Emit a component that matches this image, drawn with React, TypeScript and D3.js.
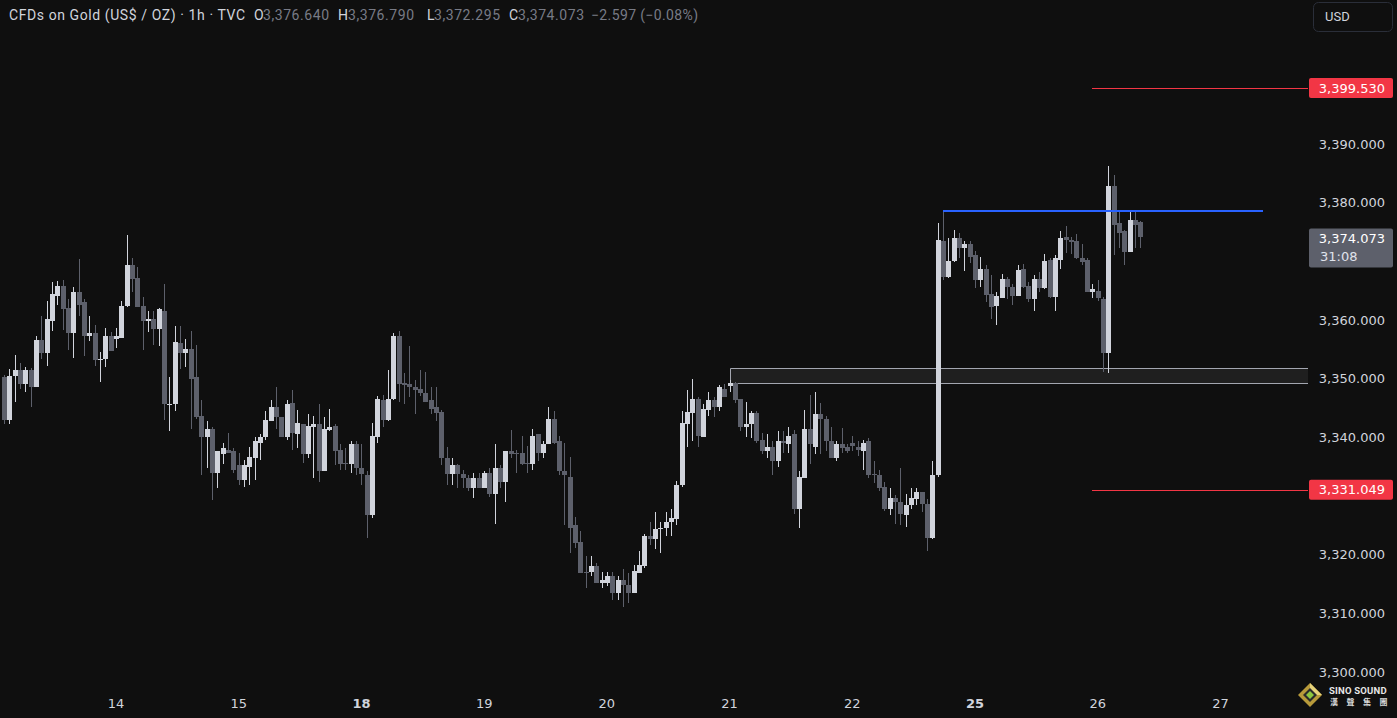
import React from 'react';
import * as d3 from 'd3';

// hourly candles, TVC:GOLD (oldest first)
const opens = [
  3350.3, 3343.0, 3350.5, 3351.4, 3349.1, 3351.5, 3348.6, 3356.6, 3354.3, 3359.9,
  3364.1, 3365.8, 3362.1, 3357.7, 3364.8, 3363.0, 3357.2, 3357.7, 3353.2, 3353.4,
  3357.3, 3356.8, 3357.0, 3362.4, 3369.4, 3367.2, 3362.4, 3359.9, 3360.2, 3358.5,
  3361.6, 3345.6, 3345.7, 3356.1, 3354.4, 3355.1, 3350.3, 3343.7, 3340.1, 3341.5,
  3334.0, 3337.2, 3337.9, 3337.6, 3335.3, 3332.8, 3335.0, 3336.4, 3339.1, 3340.0,
  3342.8, 3345.1, 3343.5, 3340.0, 3345.9, 3340.6, 3342.3, 3337.1, 3341.8, 3342.3,
  3334.3, 3341.3, 3342.0, 3337.9, 3335.7, 3335.5, 3338.8, 3334.7, 3333.6, 3326.7,
  3340.0, 3346.4, 3343.0, 3346.6, 3357.2, 3349.3, 3349.1, 3348.6, 3348.3, 3347.6,
  3346.3, 3345.1, 3344.4, 3336.4, 3333.8, 3335.2, 3333.8, 3333.1, 3331.4, 3333.1,
  3331.3, 3334.0, 3330.4, 3334.8, 3332.4, 3337.7, 3337.4, 3337.4, 3335.7, 3335.5,
  3340.5, 3337.4, 3338.8, 3343.2, 3339.3, 3334.3, 3333.3, 3325.0, 3322.2, 3317.1,
  3317.0, 3318.0, 3315.2, 3315.1, 3316.4, 3313.5, 3315.6, 3314.9, 3313.4, 3316.9,
  3318.1, 3323.1, 3322.6, 3324.3, 3324.6, 3325.5, 3326.1, 3331.8, 3342.3, 3344.2,
  3346.6, 3340.1, 3344.7, 3346.4, 3345.2, 3348.3, 3348.8, 3349.3, 3346.6, 3341.8,
  3342.2, 3344.2, 3339.6, 3337.7, 3338.4, 3336.0, 3339.3, 3338.9, 3340.5, 3327.7,
  3333.0, 3341.5, 3338.4, 3343.9, 3343.2, 3339.4, 3336.5, 3338.9, 3338.4, 3339.1,
  3338.4, 3337.7, 3339.3, 3333.8, 3333.6, 3331.6, 3327.7, 3329.7, 3329.0, 3326.8,
  3328.4, 3329.5, 3330.6, 3328.7, 3322.9, 3333.5, 3373.5, 3367.4, 3370.1, 3373.9,
  3372.3, 3373.0, 3371.1, 3366.9, 3368.7, 3364.5, 3362.4, 3363.8, 3367.0, 3365.7,
  3364.1, 3368.7, 3365.8, 3363.5, 3367.0, 3365.5, 3370.3, 3364.0, 3370.3, 3374.2,
  3373.7, 3373.5, 3370.6, 3370.3, 3364.8, 3365.0, 3363.6, 3354.3, 3382.9, 3376.6,
  3375.1, 3371.6, 3377.1, 3376.64
];

const highs = [
  3350.7, 3351.7, 3354.1, 3352.7, 3352.0, 3351.9, 3357.3, 3360.7, 3363.3, 3366.4,
  3366.7, 3366.9, 3363.5, 3365.7, 3370.4, 3363.5, 3360.6, 3359.2, 3354.6, 3358.7,
  3358.0, 3358.7, 3363.3, 3374.5, 3370.6, 3369.1, 3364.0, 3361.6, 3361.6, 3362.1,
  3366.2, 3350.2, 3358.9, 3358.9, 3356.8, 3358.2, 3355.8, 3346.3, 3342.7, 3341.8,
  3337.6, 3339.1, 3340.8, 3338.2, 3337.4, 3336.2, 3338.4, 3340.0, 3340.6, 3344.5,
  3346.4, 3348.5, 3343.5, 3346.4, 3348.0, 3344.7, 3342.3, 3343.9, 3343.7, 3345.7,
  3343.4, 3344.9, 3342.2, 3338.8, 3338.1, 3339.4, 3339.3, 3338.8, 3334.2, 3342.5,
  3347.1, 3347.3, 3351.5, 3357.8, 3358.2, 3350.9, 3355.5, 3349.7, 3351.4, 3351.2,
  3348.5, 3348.5, 3344.7, 3338.4, 3336.5, 3335.5, 3334.5, 3333.6, 3334.0, 3334.0,
  3334.3, 3334.7, 3338.9, 3335.2, 3337.7, 3341.3, 3337.9, 3340.3, 3338.6, 3341.5,
  3340.6, 3339.4, 3345.1, 3344.5, 3340.3, 3339.1, 3336.7, 3326.5, 3324.1, 3319.7,
  3319.8, 3318.6, 3317.1, 3317.1, 3317.1, 3316.4, 3317.5, 3316.8, 3318.3, 3320.7,
  3323.6, 3325.6, 3327.3, 3325.6, 3327.2, 3327.7, 3332.6, 3344.5, 3348.1, 3350.0,
  3346.8, 3345.7, 3347.8, 3346.9, 3349.0, 3349.1, 3349.7, 3349.5, 3346.6, 3346.1,
  3344.5, 3344.5, 3340.8, 3340.5, 3339.4, 3341.1, 3341.1, 3341.8, 3341.3, 3334.2,
  3344.7, 3347.3, 3347.8, 3345.9, 3343.7, 3341.8, 3339.3, 3341.6, 3338.9, 3340.3,
  3339.3, 3339.6, 3339.9, 3336.0, 3334.5, 3332.4, 3331.3, 3330.1, 3334.7, 3330.4,
  3331.3, 3331.4, 3330.7, 3329.5, 3336.0, 3376.6, 3378.6, 3374.0, 3375.4, 3374.9,
  3373.5, 3373.5, 3371.8, 3370.8, 3369.4, 3367.6, 3364.8, 3367.9, 3367.4, 3366.2,
  3369.3, 3369.6, 3366.5, 3367.7, 3368.2, 3371.3, 3370.6, 3371.1, 3375.2, 3376.1,
  3374.2, 3374.7, 3373.0, 3370.6, 3366.2, 3366.9, 3364.0, 3386.3, 3384.8, 3378.8,
  3375.4, 3378.8, 3378.8, 3376.79
];

const lows = [
  3342.3, 3342.3, 3346.1, 3348.3, 3347.8, 3345.1, 3348.5, 3353.4, 3352.2, 3358.2,
  3362.6, 3358.3, 3354.9, 3353.6, 3360.6, 3353.9, 3356.5, 3352.2, 3349.5, 3352.0,
  3354.8, 3355.3, 3357.0, 3362.3, 3364.7, 3362.3, 3354.9, 3358.0, 3355.8, 3355.5,
  3343.0, 3341.0, 3344.5, 3351.7, 3352.0, 3341.5, 3343.2, 3333.6, 3334.8, 3329.4,
  3331.3, 3335.5, 3337.4, 3334.0, 3331.9, 3331.6, 3331.8, 3332.8, 3336.2, 3339.6,
  3342.8, 3341.5, 3340.0, 3339.6, 3337.9, 3338.1, 3335.7, 3336.5, 3333.0, 3332.4,
  3334.2, 3341.1, 3335.2, 3334.5, 3334.5, 3334.0, 3333.5, 3331.8, 3322.9, 3326.3,
  3339.1, 3341.8, 3342.8, 3346.3, 3346.1, 3345.7, 3346.8, 3343.9, 3347.1, 3346.1,
  3344.0, 3342.7, 3335.2, 3331.9, 3331.8, 3331.3, 3331.3, 3330.9, 3329.7, 3331.3,
  3331.3, 3329.9, 3325.3, 3331.3, 3329.0, 3336.5, 3334.0, 3335.3, 3334.0, 3334.5,
  3336.0, 3336.5, 3338.8, 3338.8, 3333.6, 3325.1, 3320.3, 3321.2, 3316.8, 3314.4,
  3316.3, 3315.2, 3314.4, 3314.7, 3312.3, 3312.2, 3311.0, 3311.8, 3313.4, 3316.9,
  3317.8, 3321.7, 3321.0, 3320.3, 3323.1, 3323.2, 3325.1, 3331.6, 3338.4, 3339.4,
  3338.4, 3340.1, 3343.7, 3343.5, 3344.5, 3346.9, 3347.8, 3345.9, 3341.0, 3340.1,
  3339.9, 3339.1, 3337.2, 3336.5, 3333.6, 3335.0, 3337.4, 3337.4, 3327.0, 3324.6,
  3333.0, 3335.5, 3337.2, 3337.2, 3337.7, 3336.4, 3336.0, 3337.4, 3337.4, 3337.7,
  3336.9, 3334.5, 3333.1, 3332.3, 3330.9, 3327.5, 3326.7, 3325.3, 3325.1, 3324.8,
  3327.7, 3328.5, 3327.2, 3320.7, 3322.7, 3333.3, 3366.9, 3367.2, 3369.9, 3370.6,
  3368.4, 3369.8, 3365.5, 3365.7, 3363.0, 3360.2, 3359.2, 3363.8, 3363.5, 3362.6,
  3364.1, 3365.5, 3363.0, 3361.6, 3364.7, 3365.2, 3363.8, 3361.6, 3368.7, 3371.5,
  3371.3, 3370.4, 3369.4, 3364.8, 3363.8, 3363.3, 3351.2, 3350.9, 3371.0, 3372.3,
  3369.3, 3371.6, 3372.2, 3372.295
];

const closes = [
  3343.0, 3350.5, 3351.5, 3349.1, 3351.5, 3348.6, 3356.6, 3354.3, 3360.1, 3364.5,
  3365.8, 3361.9, 3357.7, 3364.8, 3362.6, 3357.3, 3357.7, 3353.2, 3353.4, 3357.3,
  3354.8, 3357.3, 3362.4, 3369.3, 3367.0, 3362.3, 3359.9, 3360.1, 3358.5, 3361.8,
  3345.6, 3345.7, 3356.3, 3354.4, 3355.1, 3350.0, 3343.5, 3340.1, 3341.5, 3334.0,
  3337.6, 3338.1, 3337.4, 3334.5, 3332.8, 3335.2, 3336.7, 3339.3, 3340.1, 3343.0,
  3345.1, 3343.4, 3340.0, 3345.7, 3340.8, 3342.5, 3337.2, 3342.0, 3342.3, 3334.3,
  3341.5, 3341.8, 3337.6, 3335.5, 3335.5, 3338.8, 3334.7, 3333.8, 3326.7, 3340.3,
  3346.6, 3343.0, 3346.6, 3357.2, 3349.1, 3349.0, 3348.5, 3348.1, 3347.6, 3346.1,
  3344.9, 3344.2, 3336.4, 3333.8, 3335.3, 3333.8, 3333.1, 3331.4, 3333.1, 3331.3,
  3334.0, 3330.4, 3334.8, 3332.4, 3337.6, 3337.2, 3337.2, 3335.5, 3335.6, 3340.3,
  3337.4, 3338.9, 3343.2, 3339.1, 3334.2, 3333.5, 3324.6, 3322.0, 3316.9, 3317.0,
  3318.1, 3315.2, 3315.6, 3316.4, 3313.5, 3315.6, 3314.9, 3313.4, 3317.3, 3318.3,
  3323.1, 3322.6, 3324.4, 3324.6, 3325.6, 3326.3, 3331.9, 3342.5, 3344.4, 3346.6,
  3340.3, 3344.9, 3346.4, 3345.2, 3348.5, 3346.9, 3349.3, 3346.3, 3341.8, 3342.3,
  3344.2, 3339.4, 3337.7, 3338.4, 3336.0, 3339.3, 3339.1, 3340.3, 3327.8, 3333.3,
  3341.5, 3338.8, 3343.9, 3343.2, 3339.4, 3336.4, 3338.8, 3338.1, 3337.7, 3338.6,
  3337.9, 3339.1, 3333.5, 3333.6, 3331.4, 3327.7, 3329.7, 3328.9, 3327.0, 3328.4,
  3329.7, 3330.6, 3328.7, 3322.9, 3333.5, 3373.7, 3367.4, 3370.1, 3373.9, 3372.2,
  3373.0, 3370.8, 3366.9, 3368.7, 3364.3, 3362.3, 3364.1, 3367.0, 3365.7, 3364.1,
  3368.6, 3365.7, 3363.5, 3367.0, 3365.5, 3370.1, 3364.0, 3370.6, 3374.0, 3373.7,
  3373.3, 3370.6, 3369.9, 3364.8, 3365.3, 3363.8, 3354.4, 3382.9, 3376.2, 3374.9,
  3371.6, 3377.1, 3376.2, 3374.073
];

// time axis: bar index where each session day starts
const dayLabels = ['14', '15', '18', '19', '20', '21', '22', '25', '26', '27'];
const dayStartBars = [21, 44, 67, 90, 113, 136, 159, 182, 205, 228];
const weekStartLabels = ['18', '25'];

const priceTicks = [3300, 3310, 3320, 3330, 3340, 3350, 3360, 3370, 3380, 3390];

// drawings on the chart
const redLevels = [3399.53, 3331.049];
const redLevelStartBar = 204;
const blueLevel = 3378.6;
const blueLevelBars = [176, 236];
const zone = [3349.3, 3351.9];
const zoneStartBar = 136;

const legendChange = -2.597;
const legendChangePct = -0.08;
const countdown = '31:08';

const W = 1397;
const H = 718;
const PLOT_RIGHT = 1308;

const BG = '#0f0f0f';
const UP = '#d1d4dc';
const DOWN = '#5d606b';
const TEXT = '#d1d4dc';
const MUTED = '#787b86';
const RED = '#f23645';
const BLUE = '#2962ff';
const FONT = 'Roboto, "Noto Sans", sans-serif';
const NUM_FONT = '"DejaVu Sans", sans-serif';

const fmt = d3.format(',.3f');
const minus = (s: string) => s.replace('-', '\u2212');

const App: React.FC = () => {
  const x = d3.scaleLinear().domain([0, 228]).range([4, 1220.4]);
  const y = d3.scaleLinear().domain([3300, 3390]).range([672, 144]);

  const n = closes.length;
  const last = n - 1;
  const lastY = y(closes[last]);

  const candles = d3.range(n).map(i => {
    const o = opens[i];
    const c = closes[i];
    const hi = Math.max(highs[i], o, c);
    const lo = Math.min(lows[i], o, c);
    const cx = Math.round(x(i));
    const top = Math.round(y(Math.max(o, c)));
    const bot = Math.round(y(Math.min(o, c)));
    const color = c >= o ? UP : DOWN;
    return (
      <g key={i} fill={color}>
        <rect x={cx} y={Math.round(y(hi))} width={1} height={Math.max(1, Math.round(y(lo)) - Math.round(y(hi)))} />
        <rect x={cx - 2} y={top} width={5} height={Math.max(1, bot - top)} />
      </g>
    );
  });

  // label boxes on the price scale hide the tick labels they cover
  const boxes = [
    ...redLevels.map(p => [y(p) - 10, y(p) + 10]),
    [lastY - 9, lastY + 30],
  ];
  const visibleTicks = priceTicks.filter(t => {
    const ty = y(t);
    return !boxes.some(([a, b]) => ty > a - 6 && ty < b + 6);
  });

  const legendItems = [
    { k: 'O', v: opens[last], kx: 254, vx: 263 },
    { k: 'H', v: highs[last], kx: 338, vx: 348 },
    { k: 'L', v: lows[last], kx: 427, vx: 434 },
    { k: 'C', v: closes[last], kx: 509, vx: 518 },
  ];

  const zx0 = Math.round(x(zoneStartBar)) + 0.5;
  const zyTop = Math.round(y(zone[1])) + 0.5;
  const zyBot = Math.round(y(zone[0])) + 0.5;

  return (
    <div style={{ position: 'absolute', left: 0, top: 0, width: W, height: H, background: BG }}>
      <svg width={W} height={H} style={{ display: 'block', fontFamily: FONT }}>
        <rect x={0} y={0} width={W} height={H} fill={BG} />

        {/* zone rectangle, open to the price scale */}
        <rect x={zx0} y={zyTop} width={PLOT_RIGHT - zx0} height={zyBot - zyTop} fill="rgba(255,255,255,0.07)" />
        <path
          d={`M${PLOT_RIGHT},${zyTop}H${zx0}V${zyBot}H${PLOT_RIGHT}`}
          fill="none"
          stroke="#a3a6b0"
          strokeWidth={1}
        />

        <g shapeRendering="crispEdges">{candles}</g>

        {/* horizontal levels */}
        <line
          x1={Math.round(x(blueLevelBars[0]))}
          x2={Math.round(x(blueLevelBars[1]))}
          y1={Math.round(y(blueLevel))}
          y2={Math.round(y(blueLevel))}
          stroke={BLUE}
          strokeWidth={2}
        />
        <g shapeRendering="crispEdges">
          {redLevels.map(p => (
            <rect
              key={p}
              x={Math.round(x(redLevelStartBar))}
              y={Math.round(y(p))}
              width={PLOT_RIGHT - Math.round(x(redLevelStartBar))}
              height={1}
              fill={RED}
            />
          ))}
        </g>

        {/* price scale */}
        <g fontFamily={NUM_FONT} fontSize={13}>
          {visibleTicks.map(t => (
            <text key={t} x={1385} y={y(t)} dy="0.35em" textAnchor="end" fill={TEXT}>
              {fmt(t)}
            </text>
          ))}

          {redLevels.map(p => (
            <g key={'lbl' + p}>
              <rect x={1309} y={y(p) - 10} width={84} height={20} rx={2} fill={RED} />
              <text x={1385} y={y(p)} dy="0.35em" textAnchor="end" fill="#ffffff">
                {fmt(p)}
              </text>
            </g>
          ))}

          <rect x={1309} y={lastY - 9} width={84} height={39} rx={2} fill={DOWN} />
          <text x={1385} y={lastY + 1} dy="0.35em" textAnchor="end" fill="#ffffff">
            {fmt(closes[last])}
          </text>
          <text x={1320} y={lastY + 19} dy="0.35em" fill="#e0e3eb">
            {countdown}
          </text>
        </g>

        {/* time scale */}
        <g fontFamily={NUM_FONT} fontSize={13}>
          {dayLabels.map((d, i) => (
            <text
              key={d}
              x={x(dayStartBars[i])}
              y={703}
              dy="0.35em"
              textAnchor="middle"
              fill={TEXT}
              fontWeight={weekStartLabels.includes(d) ? 700 : 400}
            >
              {d}
            </text>
          ))}
        </g>

        {/* legend */}
        <text x={9} y={15} dy="0.35em" fill={TEXT} fontSize={14} textLength={236} lengthAdjust="spacing">
          CFDs on Gold (US$ / OZ) · 1h · TVC
        </text>
        <g fontSize={14}>
          {legendItems.map(it => (
            <g key={it.k}>
              <text x={it.kx} y={15} dy="0.35em" fill={TEXT}>{it.k}</text>
              <text x={it.vx} y={15} dy="0.35em" fill={MUTED} textLength={66} lengthAdjust="spacing">
                {fmt(it.v)}
              </text>
            </g>
          ))}
          <text x={591} y={15} dy="0.35em" fill={MUTED} textLength={107} lengthAdjust="spacing">
            {minus(d3.format('.3f')(legendChange))} ({minus(d3.format('.2f')(legendChangePct))}%)
          </text>
        </g>

        {/* currency button */}
        <rect x={1313.5} y={2.5} width={79} height={29} rx={5} fill="none" stroke="#2a2e39" />
        <text x={1325} y={16} dy="0.35em" fill={TEXT} fontSize={13}>USD</text>

        {/* watermark logo */}
        <g transform="translate(1310,695)">
          <polygon points="0,-12 12,0 0,12 -12,0" fill="#b89a3a" />
          <polygon points="0,-12 12,0 0,0" fill="#e6d27a" />
          <polygon points="0,-7 7,0 0,7 -7,0" fill="#2a2a2a" />
          <polygon points="0,-4 4,0 0,4 -4,0" fill="#8dc63f" />
        </g>
        <text x={1329} y={691} dy="0.35em" fill="#e6e6e6" fontSize={9.5} fontWeight={700} letterSpacing={0.2}>
          SINO SOUND
        </text>
        <text
          x={1330}
          y={702}
          dy="0.35em"
          fill="#d8d8d8"
          fontSize={8}
          fontWeight={700}
          letterSpacing={8.5}
          fontFamily='"Noto Sans CJK TC", sans-serif'
        >
          漢聲集團
        </text>
      </svg>
    </div>
  );
};

export default App;
